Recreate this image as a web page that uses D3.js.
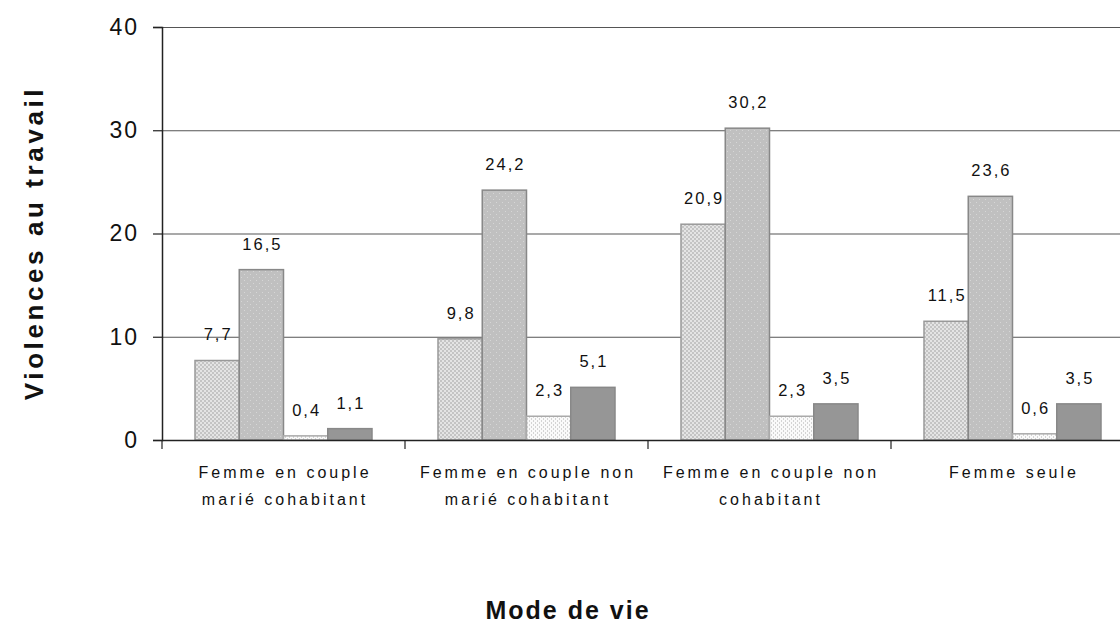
<!DOCTYPE html>
<html>
  <head>
    <meta charset="utf-8">
    <title>Violences au travail</title>
    <script src="https://cdn.jsdelivr.net/npm/d3@7"></script>
    <style>
      body { margin: 0; background: #fff; }
      text { font-family: "Liberation Sans", Arial, sans-serif; fill: #111; }
    </style>
  </head>
  <body>
    <script>

// data
var categories = [
  ["Femme en couple", "marié cohabitant"],
  ["Femme en couple non", "marié cohabitant"],
  ["Femme en couple non", "cohabitant"],
  ["Femme seule"]
];
var serie1 = [7.7, 9.8, 20.9, 11.5];
var serie2 = [16.5, 24.2, 30.2, 23.6];
var serie3 = [0.4, 2.3, 2.3, 0.6];
var serie4 = [1.1, 5.1, 3.5, 3.5];
var yTicks = [0, 10, 20, 30, 40];

var w = 1120, h = 628;
// plot box (note: "top" is reserved on window, so use other names)
var plotL = 162, plotR = 1134, plotT = 27, plotB = 440;

var svg = d3.select("body").append("svg")
  .attr("width", w)
  .attr("height", h);

// fill patterns for the bars
var defs = svg.append("defs");
var p1 = defs.append("pattern").attr("id", "p1").attr("patternUnits", "userSpaceOnUse")
  .attr("width", 4).attr("height", 4);
p1.append("rect").attr("width", 4).attr("height", 4).attr("fill", "#e4e4e4");
p1.append("rect").attr("width", 2).attr("height", 2).attr("fill", "#c4c4c4");
p1.append("rect").attr("x", 2).attr("y", 2).attr("width", 2).attr("height", 2).attr("fill", "#c4c4c4");

var p2 = defs.append("pattern").attr("id", "p2").attr("patternUnits", "userSpaceOnUse")
  .attr("width", 6).attr("height", 6);
p2.append("rect").attr("width", 6).attr("height", 6).attr("fill", "#c0c0c0");
p2.append("rect").attr("x", 1).attr("y", 1).attr("width", 1).attr("height", 1).attr("fill", "#d6d6d6");
p2.append("rect").attr("x", 4).attr("y", 4).attr("width", 1).attr("height", 1).attr("fill", "#d6d6d6");

var p3 = defs.append("pattern").attr("id", "p3").attr("patternUnits", "userSpaceOnUse")
  .attr("width", 4).attr("height", 4);
p3.append("rect").attr("width", 4).attr("height", 4).attr("fill", "#fafafa");
p3.append("rect").attr("x", 1).attr("y", 0).attr("width", 1).attr("height", 2).attr("fill", "#d4d4d4");
p3.append("rect").attr("x", 3).attr("y", 2).attr("width", 1).attr("height", 2).attr("fill", "#d4d4d4");

var fills = ["url(#p1)", "url(#p2)", "url(#p3)", "#969696"];
var strokes = ["#999", "#888", "#aaa", "#888"];

// scales
var x0 = d3.scaleBand().domain(d3.range(categories.length)).range([plotL, plotR]);
var x1 = d3.scaleBand().domain(d3.range(4)).range([33, x0.bandwidth() - 33]);
var y = d3.scaleLinear().domain([0, 40]).range([plotB, plotT]);

// gridlines
svg.append("g").selectAll("line")
  .data(yTicks.slice(1))
  .enter().append("line")
  .attr("x1", plotL).attr("x2", plotR)
  .attr("y1", function(d){ return y(d) + 0.5; })
  .attr("y2", function(d){ return y(d) + 0.5; })
  .attr("stroke", "#555")
  .attr("stroke-width", 1.2);

// bars
var series = [serie1, serie2, serie3, serie4];
var rows = [];
series.forEach(function(s, i){
  s.forEach(function(v, j){ rows.push({s: i, c: j, v: v}); });
});

svg.append("g").selectAll("rect")
  .data(rows)
  .enter().append("rect")
  .attr("x", function(d){ return x0(d.c) + x1(d.s); })
  .attr("y", function(d){ return y(d.v); })
  .attr("width", x1.bandwidth())
  .attr("height", function(d){ return y(0) - y(d.v); })
  .attr("fill", function(d){ return fills[d.s]; })
  .attr("stroke", function(d){ return strokes[d.s]; })
  .attr("stroke-width", 1.5);

// value labels (letter-spacing also pads the end, so nudge by half of it)
svg.append("g").selectAll("text")
  .data(rows)
  .enter().append("text")
  .attr("x", function(d){ return x0(d.c) + x1(d.s) + x1.bandwidth() / 2 + 1; })
  .attr("y", function(d){ return y(d.v) - 20; })
  .attr("text-anchor", "middle")
  .attr("font-size", "16.5px")
  .attr("letter-spacing", "2px")
  .text(function(d){ return String(d.v).replace(".", ","); });

// y axis
var yAxis = d3.axisLeft(y).tickValues(yTicks).tickSize(9).tickPadding(14)
  .tickFormat(d3.format("d"));
var gy = svg.append("g")
  .attr("transform", "translate(" + plotL + ",0)")
  .call(yAxis);
gy.select(".domain").attr("stroke", "#222").attr("stroke-width", 1.5);
gy.selectAll(".tick line").attr("stroke", "#222").attr("stroke-width", 1.2);
gy.selectAll(".tick text").attr("font-size", "23px").attr("fill", "#111")
  .attr("letter-spacing", "2px")
  .attr("font-family", "Liberation Sans, Arial, sans-serif");

// x axis
var gx = svg.append("g")
  .attr("transform", "translate(0," + plotB + ")");
gx.append("line")
  .attr("x1", plotL).attr("x2", plotR)
  .attr("y1", 0.5).attr("y2", 0.5)
  .attr("stroke", "#222").attr("stroke-width", 1.5);
gx.selectAll("line.tk")
  .data(d3.range(categories.length + 1))
  .enter().append("line")
  .attr("class", "tk")
  .attr("x1", function(d){ return plotL + d * x0.step(); })
  .attr("x2", function(d){ return plotL + d * x0.step(); })
  .attr("y1", 0).attr("y2", 9)
  .attr("stroke", "#222").attr("stroke-width", 1.2);

var cat = gx.selectAll("text.cat")
  .data(categories)
  .enter().append("text")
  .attr("class", "cat")
  .attr("x", function(d, i){ return x0(i) + x0.bandwidth() / 2 + 1.5; })
  .attr("y", 38)
  .attr("text-anchor", "middle")
  .attr("font-size", "16px")
  .attr("letter-spacing", "3px");
cat.selectAll("tspan")
  .data(function(d){ return d; })
  .enter().append("tspan")
  .attr("x", function(){ return d3.select(this.parentNode).attr("x"); })
  .attr("dy", function(d, i){ return i === 0 ? 0 : 27; })
  .text(function(d){ return d; });

// axis titles
svg.append("text")
  .attr("transform", "translate(43,243) rotate(-90)")
  .attr("text-anchor", "middle")
  .attr("font-size", "26px")
  .attr("font-weight", "bold")
  .attr("letter-spacing", "3.6px")
  .text("Violences au travail");

svg.append("text")
  .attr("x", 568)
  .attr("y", 619)
  .attr("text-anchor", "middle")
  .attr("font-size", "25px")
  .attr("font-weight", "bold")
  .attr("letter-spacing", "2px")
  .text("Mode de vie");

    </script>
  </body>
</html>
